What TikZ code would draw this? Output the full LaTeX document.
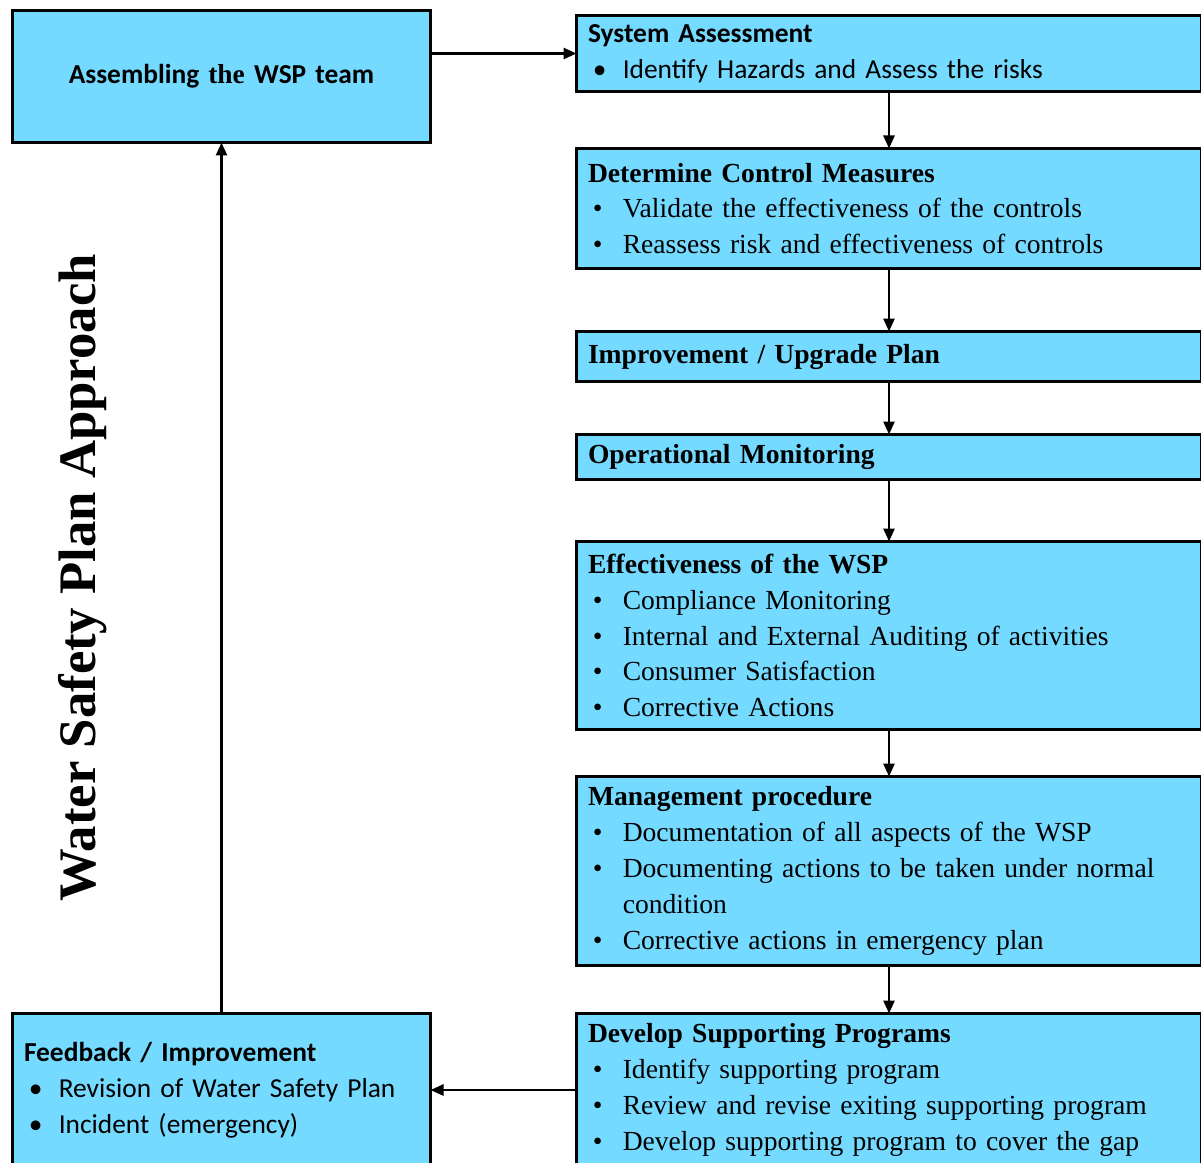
\documentclass[tikz,border=0pt]{standalone}
\usepackage{fontspec}
\setmainfont{Liberation Serif}
\newfontfamily\calibri{Carlito}
\usetikzlibrary{positioning,arrows.meta}
\definecolor{wspblue}{RGB}{117,218,255}
\newcommand{\bul}{\makebox[19.8pt][l]{\hspace{2.8pt}\textbullet}}

\begin{document}
\begin{tikzpicture}[
    node distance=1cm,
    stage/.style={rectangle, draw=black, line width=2pt, outer sep=0pt, fill=wspblue, align=left, minimum width=12.5cm, text width=12.04cm, inner xsep=0.23cm, inner ysep=1pt, font=\fontsize{15.7}{20.4}\selectfont},
    side/.style={rectangle, draw=black, line width=2pt, outer sep=0pt, fill=wspblue, minimum width=8.36cm, text width=7.9cm, inner xsep=0.23cm, inner ysep=1pt, font=\calibri\fontsize{15.6}{20.4}\selectfont},
    link/.style={-{Triangle[length=2.6mm,width=2.2mm]}, line width=1.5pt}
]
\useasboundingbox (0,0) rectangle (24.02,-23.24);
\clip (0,0) rectangle (24.02,-23.24);

\node[side, anchor=north west, minimum height=2.64cm, align=center] (assemble) at (0.25,-0.21) {\textbf{Assembling {\rmfamily the} WSP team}};

\node[stage, anchor=north west, minimum height=1.52cm, font=\calibri\fontsize{15.6}{20.4}\selectfont] (system) at (11.53,-0.31) {\textbf{System Assessment}\\ \bul Identify Hazards and Assess the risks};
\node[stage, minimum height=2.4cm, below=1.14cm of system] (control) {\textbf{Determine Control Measures}\\ \bul Validate the effectiveness of the controls\\ \bul Reassess risk and effectiveness of controls};
\node[stage, minimum height=1cm, below=1.26cm of control] (upgrade) {\textbf{Improvement / Upgrade Plan}};
\node[stage, minimum height=0.9cm, below=1.06cm of upgrade] (monitor) {\textbf{Operational Monitoring}};
\node[stage, minimum height=3.76cm, below=1.24cm of monitor] (effect) {\textbf{Effectiveness of the WSP}\\ \bul Compliance Monitoring\\ \bul Internal and External Auditing of activities\\ \bul Consumer Satisfaction\\ \bul Corrective Actions};
\node[stage, minimum height=3.78cm, below=0.94cm of effect] (manage) {\textbf{Management procedure}\\ \bul Documentation of all aspects of the WSP\\ \bul Documenting actions to be taken under normal\\ \hspace*{19.8pt}condition\\ \bul Corrective actions in emergency plan};
\node[stage, minimum height=3.06cm, below=0.96cm of manage] (develop) {\textbf{Develop Supporting Programs}\\ \bul Identify supporting program\\ \bul Review and revise exiting supporting program\\ \bul Develop supporting program to cover the gap};

\node[side, anchor=north west, minimum height=3.06cm, align=left] (feedback) at (assemble.west |- develop.north) {\textbf{Feedback / Improvement}\\ \bul Revision of Water Safety Plan\\ \bul Incident (emergency)};

\node[rotate=90, font=\bfseries\fontsize{30}{34}\selectfont] (title) at (1.66,-11.56) {Water Safety Plan Approach};

\draw[link] (assemble.east |- system.west) -- (system.west);
\draw[link] (system) -- (control);
\draw[link] (control) -- (upgrade);
\draw[link] (upgrade) -- (monitor);
\draw[link] (monitor) -- (effect);
\draw[link] (effect) -- (manage);
\draw[link] (manage) -- (develop);
\draw[link] (develop.west |- feedback.east) -- (feedback.east);
\draw[link] (feedback) -- (assemble);

\end{tikzpicture}
\end{document}
